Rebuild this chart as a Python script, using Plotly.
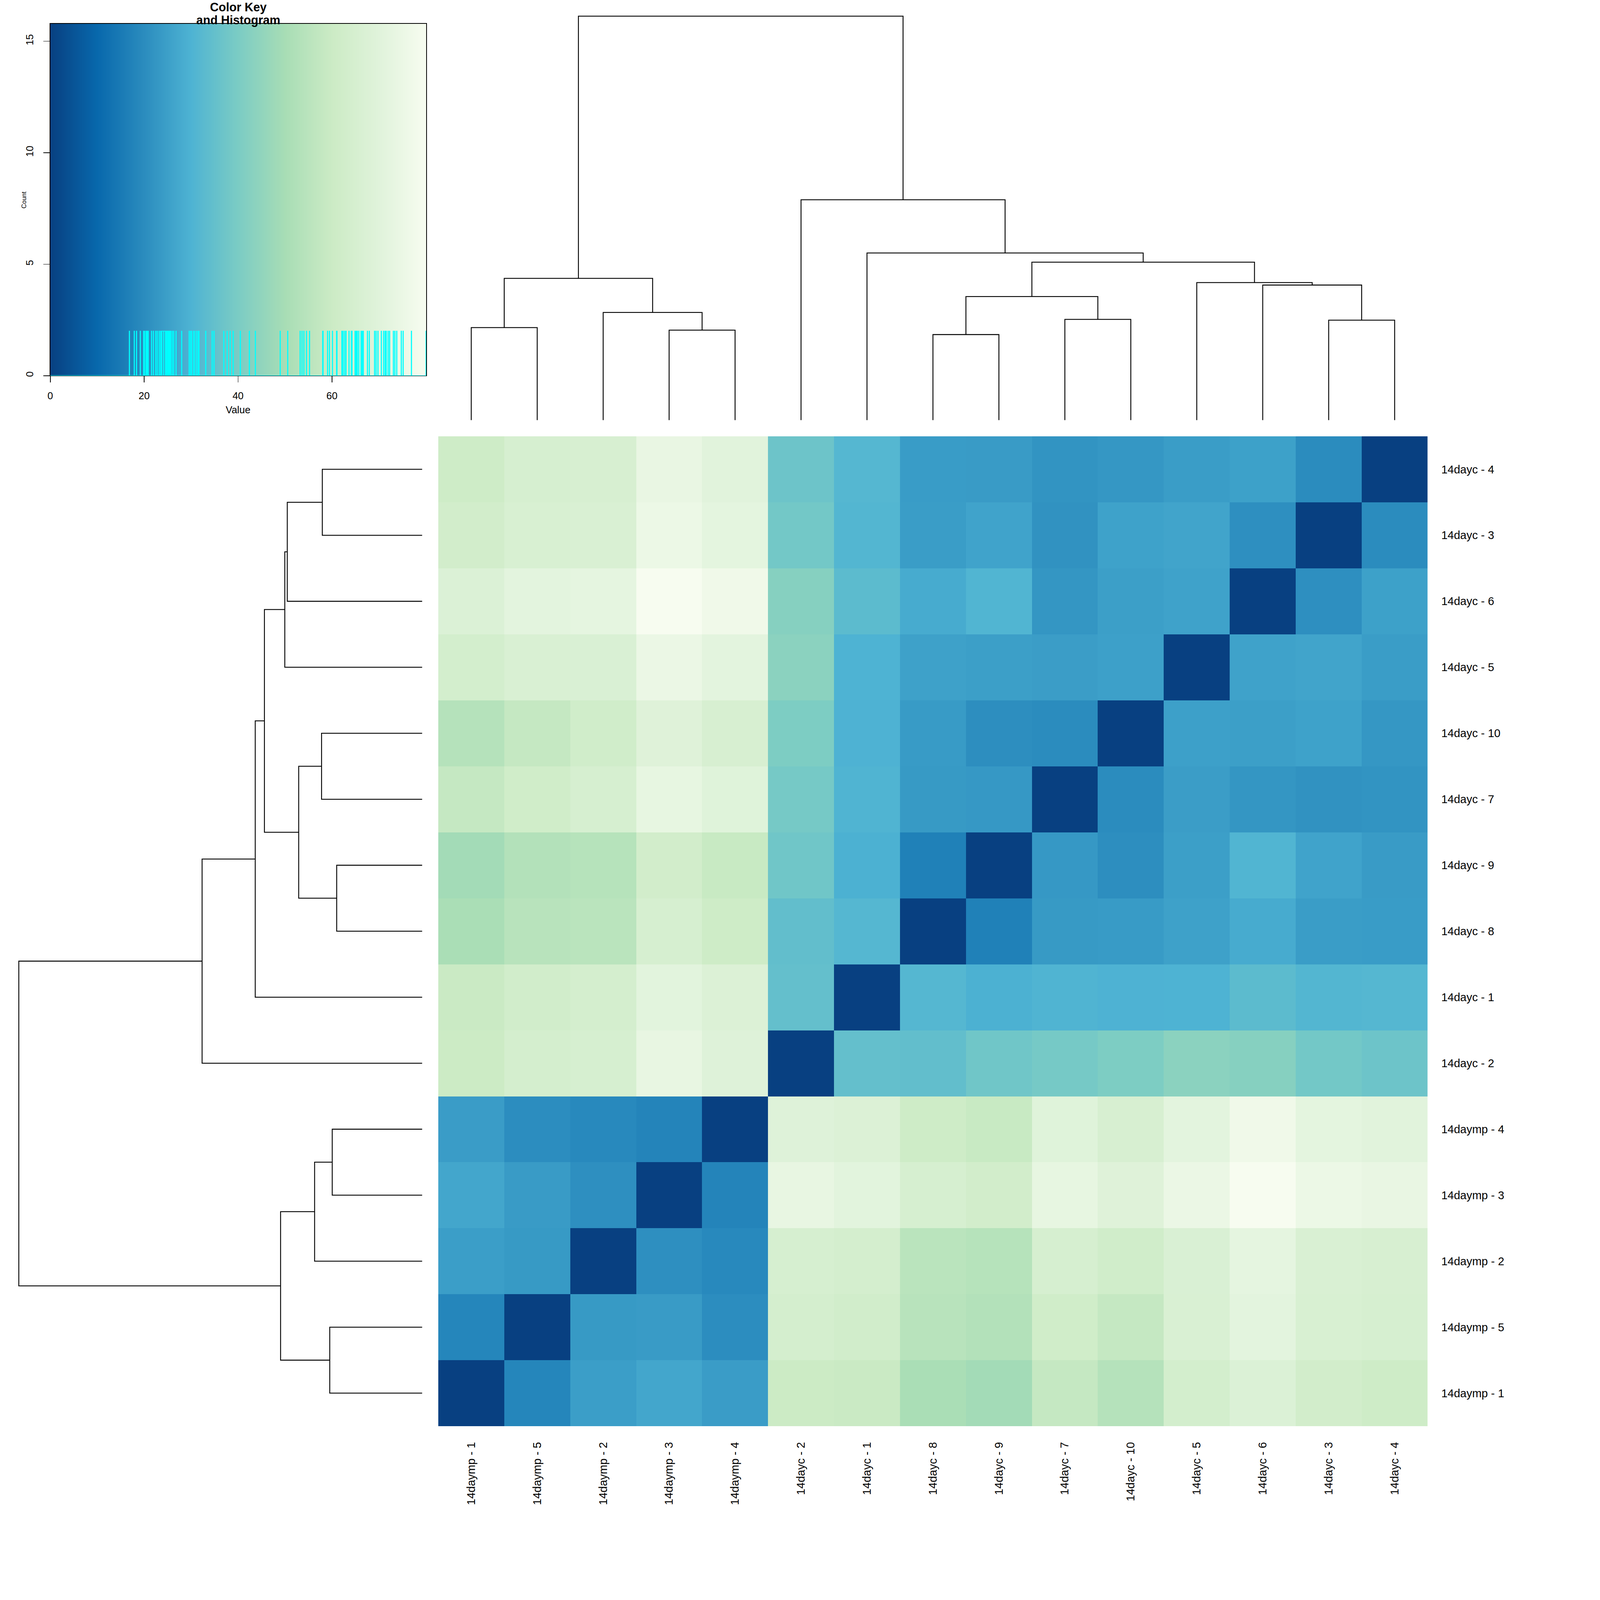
import numpy as np
import plotly.graph_objects as go

FONT = "Liberation Sans, Arial, sans-serif"
W = H = 4800

# samples, in the dendrogram leaf order (left to right / bottom to top)
labels = [
    "14daymp - 1", "14daymp - 5", "14daymp - 2", "14daymp - 3", "14daymp - 4",
    "14dayc - 2", "14dayc - 1", "14dayc - 8", "14dayc - 9", "14dayc - 7",
    "14dayc - 10", "14dayc - 5", "14dayc - 6", "14dayc - 3", "14dayc - 4",
]

# lower triangle of the distance matrix (row i vs labels[:i])
dist_lower = [
    [],
    [18.4],
    [24.6, 23.6],
    [26.8, 24.0, 20.8],
    [24.2, 20.4, 19.2, 17.9],
    [60.1, 64.1, 65.2, 73.4, 69.1],
    [59.5, 62.6, 64.3, 71.0, 68.0, 34.9],
    [50.6, 54.6, 55.2, 65.0, 61.1, 34.5, 31.5],
    [49.0, 53.2, 54.0, 62.9, 59.1, 37.7, 29.6, 16.9],
    [58.0, 62.1, 64.9, 73.1, 69.8, 39.0, 30.5, 23.5, 23.2],
    [53.6, 58.1, 62.3, 69.4, 65.4, 40.5, 29.9, 23.8, 20.6, 20.1],
    [63.6, 66.4, 66.7, 74.8, 71.3, 43.7, 30.1, 25.4, 24.8, 24.5, 25.1],
    [67.6, 71.6, 72.3, 80.1, 76.9, 42.4, 33.1, 28.0, 30.8, 22.5, 25.0, 25.7],
    [63.0, 66.2, 66.6, 75.2, 72.0, 38.3, 31.2, 24.4, 26.0, 21.6, 25.6, 26.3, 20.9],
    [61.0, 65.3, 65.7, 73.8, 70.5, 37.0, 31.7, 24.1, 23.9, 22.0, 22.8, 24.3, 25.3, 19.9],
]

# hclust merges: (left, right, height); a str is a leaf, an int an earlier merge
merges = [
    ("14dayc - 8", "14dayc - 9", 34.4),      # 0
    ("14daymp - 3", "14daymp - 4", 36.2),    # 1
    ("14daymp - 1", "14daymp - 5", 37.2),    # 2
    ("14dayc - 3", "14dayc - 4", 40.2),      # 3
    ("14dayc - 7", "14dayc - 10", 40.5),     # 4
    ("14daymp - 2", 1, 43.3),                # 5
    (0, 4, 49.7),                            # 6
    ("14dayc - 6", 3, 54.3),                 # 7
    ("14dayc - 5", 7, 55.3),                 # 8
    (2, 5, 57.0),                            # 9
    (6, 8, 63.5),                            # 10
    ("14dayc - 1", 10, 67.2),                # 11
    ("14dayc - 2", 11, 88.6),                # 12
    (9, 12, 162.4),                          # 13
]

# RColorBrewer GnBu, reversed (low = dark blue)
gnbu = ["#084081", "#0868ac", "#2b8cbe", "#4eb3d3", "#7bccc4",
        "#a8ddb5", "#ccebc5", "#e0f3db", "#f7fcf0"]

n = len(labels)
dist = np.zeros((n, n))
for i, row in enumerate(dist_lower):
    for j, v in enumerate(row):
        dist[i, j] = dist[j, i] = v
vmax = dist.max()
colorscale = [[k / (len(gnbu) - 1), c] for k, c in enumerate(gnbu)]


def dendro_lines(merges, labels):
    pos = {lab: i for i, lab in enumerate(labels)}
    nodes = []
    xs, ys = [], []

    def get(ref):
        if isinstance(ref, str):
            return pos[ref], 0.0
        return nodes[ref]

    for left, right, h in merges:
        (xl, hl), (xr, hr) = get(left), get(right)
        xs += [xl, xl, xr, xr, None]
        ys += [hl, h, h, hr, None]
        nodes.append(((xl + xr) / 2, h))
    return xs, ys


# pixel layout of the panels (4800 x 4800 canvas)
HM_L, HM_R, HM_T, HM_B = 1309, 4282, 1310, 4282
KEY_L, KEY_R, KEY_T, KEY_B = 143, 1273, 71, 1128


def dx(p):
    return p / W


def dy(p):
    return 1 - p / H


top = merges[-1][2]
hrange = [-0.04 * top, 1.04 * top]
dxs, dys = dendro_lines(merges, labels)

fig = go.Figure()

# main heatmap (rows drawn top-down in reverse leaf order)
fig.add_trace(go.Heatmap(
    z=dist[::-1], x=labels, y=labels[::-1],
    colorscale=colorscale, zmin=0, zmax=vmax, showscale=False,
    xaxis="x", yaxis="y",
))

line = dict(color="black", width=2.7)
fig.add_trace(go.Scatter(x=dxs, y=dys, mode="lines", line=line,
                         xaxis="x2", yaxis="y2", hoverinfo="skip"))
fig.add_trace(go.Scatter(x=dys, y=dxs, mode="lines", line=line,
                         xaxis="x3", yaxis="y3", hoverinfo="skip"))

# colour key + histogram
breaks = np.linspace(0, vmax, 1001)
mids = (breaks[:-1] + breaks[1:]) / 2
# R scales the tallest bin (the n zeros of the diagonal) to 95% of the key height
ymax = n / 0.95
fig.add_trace(go.Heatmap(
    z=[mids], x=breaks, y=[0, ymax], colorscale=colorscale,
    zmin=0, zmax=vmax, showscale=False, xaxis="x4", yaxis="y4",
))
off_diag = dist[~np.eye(n, dtype=bool)]
counts, _ = np.histogram(off_diag, bins=breaks)
hy = np.append(counts, counts[-1])
fig.add_trace(go.Scatter(x=breaks, y=hy, mode="lines", line_shape="hv",
                         line=dict(color="#00ffff", width=2.2),
                         xaxis="x4", yaxis="y4", hoverinfo="skip"))

hidden = dict(visible=False, showgrid=False, zeroline=False)
key_axis = dict(
    showgrid=False, zeroline=False, showline=True, mirror=True,
    linecolor="black", linewidth=1.5, ticks="outside", ticklen=19,
    tickwidth=2, tickcolor="black", tickfont=dict(size=30, color="black"),
)

fig.update_layout(
    width=W, height=H,
    margin=dict(l=0, r=0, t=0, b=0),
    paper_bgcolor="white", plot_bgcolor="white",
    showlegend=False,
    font=dict(family=FONT, color="black"),
    xaxis=dict(domain=[dx(HM_L), dx(HM_R)], anchor="y", tickangle=-90,
               tickfont=dict(size=34), ticklabelstandoff=40,
               showgrid=False, zeroline=False, showline=False, ticks=""),
    yaxis=dict(domain=[dy(HM_B), dy(HM_T)], anchor="x", side="right",
               autorange="reversed", tickfont=dict(size=34),
               ticklabelstandoff=40, showgrid=False, zeroline=False,
               showline=False, ticks=""),
    xaxis2=dict(domain=[dx(HM_L), dx(HM_R)], anchor="y2",
                range=[-0.5, n - 0.5], **hidden),
    yaxis2=dict(domain=[dy(HM_T), 1], anchor="x2", range=hrange, **hidden),
    xaxis3=dict(domain=[0, dx(HM_L)], anchor="y3",
                range=hrange[::-1], **hidden),
    yaxis3=dict(domain=[dy(HM_B), dy(HM_T)], anchor="x3",
                range=[-0.5, n - 0.5], **hidden),
    xaxis4=dict(domain=[dx(KEY_L), dx(KEY_R)], anchor="y4", range=[0, vmax],
                tickvals=[0, 20, 40, 60], ticklabelstandoff=14, **key_axis),
    yaxis4=dict(domain=[dy(KEY_B), dy(KEY_T)], anchor="x4", range=[0, ymax],
                tickvals=[0, 5, 10, 15], tickangle=-90, ticklabelstandoff=18,
                **key_axis),
    annotations=[
        dict(text="<b>Color Key</b>", x=dx((KEY_L + KEY_R) / 2), y=dy(22),
             xref="paper", yref="paper", showarrow=False,
             font=dict(size=36), xanchor="center", yanchor="middle"),
        dict(text="<b>and Histogram</b>", x=dx((KEY_L + KEY_R) / 2), y=dy(61),
             xref="paper", yref="paper", showarrow=False,
             font=dict(size=36), xanchor="center", yanchor="middle"),
        dict(text="Value", x=dx((KEY_L + KEY_R) / 2), y=dy(1231),
             xref="paper", yref="paper", showarrow=False,
             font=dict(size=30), xanchor="center", yanchor="middle"),
        dict(text="Count", x=dx(64), y=dy(600), textangle=-90,
             xref="paper", yref="paper", showarrow=False,
             font=dict(size=19), xanchor="center", yanchor="middle"),
    ],
)

# the browser viewport may be smaller than 4800 css px: fit the figure to it
fit_js = """
var gd = document.getElementById('{plot_id}');
var s = Math.min(window.innerWidth, window.innerHeight) / 4800;
if (s > 0 && isFinite(s)) {
  document.body.style.margin = '0';
  document.body.style.overflow = 'hidden';
  gd.style.transformOrigin = '0 0';
  gd.style.transform = 'scale(' + s + ')';
}
"""

fig.write_html("out.html", post_script=fit_js,
               config={"displayModeBar": False})
